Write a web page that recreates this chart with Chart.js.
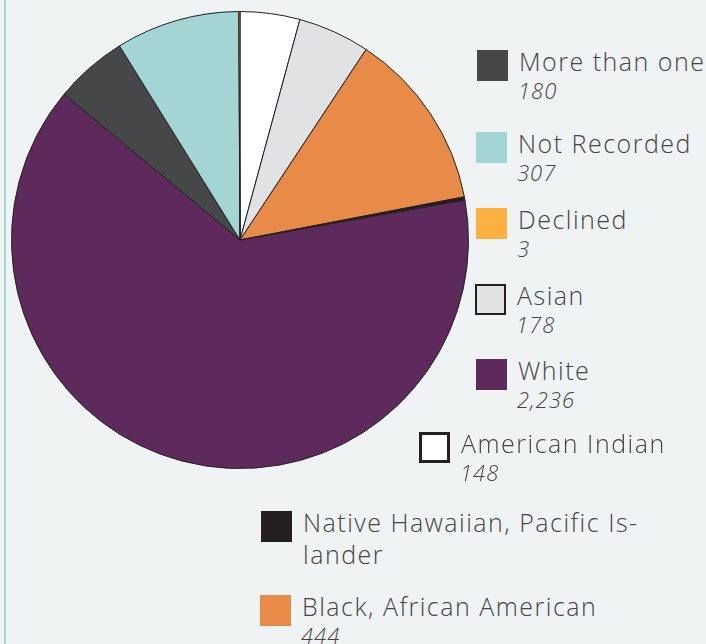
<!DOCTYPE html>
<html>
<head>
<meta charset="utf-8">
<title>Race / ethnicity</title>
<script src="https://cdn.jsdelivr.net/npm/chart.js@4.4.1/dist/chart.umd.min.js"></script>
<style>
  html, body { margin: 0; padding: 0; }
  body {
    width: 706px; height: 644px; overflow: hidden; position: relative;
    background: #eff3f4;
    font-family: "Open Sans", Lato, sans-serif;
  }
  .edge { position: absolute; left: 4px; top: 0; width: 2px; height: 644px; background: #a3d5d4; }
  #pieWrap { position: absolute; left: 11px; top: 11px; width: 458px; height: 458px; }
  .swatch { position: absolute; width: 31px; height: 31px; box-sizing: border-box; }
  .name, .count { position: absolute; white-space: nowrap; color: #444444; }
  .name { font-size: 25px; font-weight: 300; line-height: 30px; letter-spacing: 1.5px; }
  .count { font-size: 22px; font-style: italic; font-weight: 300; line-height: 26.4px; letter-spacing: 1px; }
</style>
</head>
<body>
<div class="edge"></div>
<div id="pieWrap"><canvas id="raceChart" width="458" height="458"></canvas></div>
<div id="legend"></div>

<script>
// slices, clockwise from 12 o'clock
const categories = [
    'American Indian',
    'Asian',
    'Black, African American',
    'Native Hawaiian, Pacific Islander',
    'White',
    'More than one',
    'Not Recorded',
    'Declined'
];
const counts = [148, 178, 444, 8, 2236, 180, 307, 3];
const sliceColors = ['#ffffff', '#e1e2e4', '#e88b48', '#231f20', '#5e2a5b', '#464749', '#a3d5d4', '#fbb040'];

// legend runs in its own order, staggered down the right side
const legendOrder = [
    'More than one',
    'Not Recorded',
    'Declined',
    'Asian',
    'White',
    'American Indian',
    'Native Hawaiian, Pacific Islander',
    'Black, African American'
];
const legendSlots = [
    {x: 477, y: 50},
    {x: 476, y: 132},
    {x: 476, y: 208},
    {x: 475, y: 284, border: 2},
    {x: 476, y: 359},
    {x: 419, y: 432, border: 3},
    {x: 261, y: 511, lines: ['Native Hawaiian, Pacific Is-', 'lander'], noCount: true},
    {x: 260, y: 595}
];

document.addEventListener('DOMContentLoaded', function () {
    const legend = document.getElementById('legend');
    legendOrder.forEach((name, i) => {
        const slot = legendSlots[i];
        const idx = categories.indexOf(name);

        const sw = document.createElement('div');
        sw.className = 'swatch';
        sw.style.left = slot.x + 'px';
        sw.style.top = slot.y + 'px';
        sw.style.background = sliceColors[idx];
        if (slot.border) sw.style.border = slot.border + 'px solid #231f20';
        legend.appendChild(sw);

        const textX = slot.x + 42;
        const lines = slot.lines || [name];
        let baseline = slot.y + 21;
        lines.forEach(line => {
            const el = document.createElement('div');
            el.className = 'name';
            el.textContent = line;
            el.style.left = textX + 'px';
            el.style.top = (baseline - 25) + 'px';
            legend.appendChild(el);
            baseline += 32;
        });

        if (!slot.noCount) {
            const c = document.createElement('div');
            c.className = 'count';
            c.textContent = counts[idx].toLocaleString('en-US');
            c.style.left = (textX - 1) + 'px';
            c.style.top = (baseline - 4 - 22) + 'px';
            legend.appendChild(c);
        }
    });

    new Chart(document.getElementById('raceChart'), {
        type: 'pie',
        data: {
            labels: categories,
            datasets: [{
                data: counts,
                backgroundColor: sliceColors,
                borderColor: '#231f20',
                borderWidth: 1
            }]
        },
        options: {
            responsive: false,
            animation: false,
            events: [],
            layout: {padding: 0},
            plugins: {
                legend: {display: false},
                tooltip: {enabled: false}
            }
        }
    });
});
</script>
</body>
</html>
